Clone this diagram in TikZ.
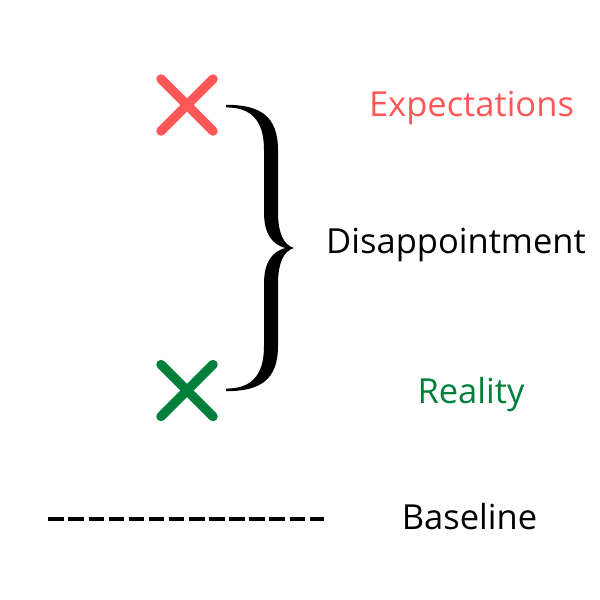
\documentclass[tikz,border=0pt]{standalone}
\usepackage{fontspec}
\setmainfont{Open Sans}
\definecolor{expred}{RGB}{255,87,87}
\definecolor{realgreen}{RGB}{0,128,58}
\begin{document}
\begin{tikzpicture}[x=1pt,y=-1pt,
  cross/.style={line width=9.5pt,line cap=round},
  lbl/.style={anchor=base,inner sep=0pt,font=\fontsize{34.5}{40}\selectfont},
  baseline dash/.style={line width=4.7pt,dash pattern=on 15.5pt off 4.6pt}]
\useasboundingbox (0,0) rectangle (600,600);
% markers
\coordinate (ex) at (187,105);
\coordinate (re) at (187,390.5);
\draw[cross,expred] ([shift={(-26,-26)}]ex) -- ([shift={(26,26)}]ex);
\draw[cross,expred] ([shift={(-26,26)}]ex) -- ([shift={(26,-26)}]ex);
\draw[cross,realgreen] ([shift={(-26,-26)}]re) -- ([shift={(26,26)}]re);
\draw[cross,realgreen] ([shift={(-26,26)}]re) -- ([shift={(26,-26)}]re);
% brace
\fill[black] (226,104.8)
  .. controls (260,104.8) and (278,116) .. (278,150)
  -- (278,212)
  .. controls (278,234) and (284,245) .. (294,248)
  .. controls (284,251) and (278,262) .. (278,284)
  -- (278,346)
  .. controls (278,380) and (260,391.2) .. (226,391.2)
  -- (226,388.6)
  .. controls (250,388.6) and (264,377) .. (264,346)
  -- (264,284)
  .. controls (264,262) and (272,252) .. (285,248)
  .. controls (272,244) and (264,234) .. (264,212)
  -- (264,150)
  .. controls (264,119) and (250,107.4) .. (226,107.4)
  -- cycle;
% baseline dashes
\coordinate (bl0) at (48.3,519);
\coordinate (bl1) at (323.5,519);
\draw[baseline dash] (bl0) -- (bl1);
% labels
\node[lbl,text=expred] (lexp) at (471.5,116.7) {Expectations};
\node[lbl] (ldis) at (456,253) {Disappointment};
\node[lbl,text=realgreen] (lrea) at (471,403) {Reality};
\node[lbl] (lbas) at (469.5,529) {Baseline};
\end{tikzpicture}
\end{document}
